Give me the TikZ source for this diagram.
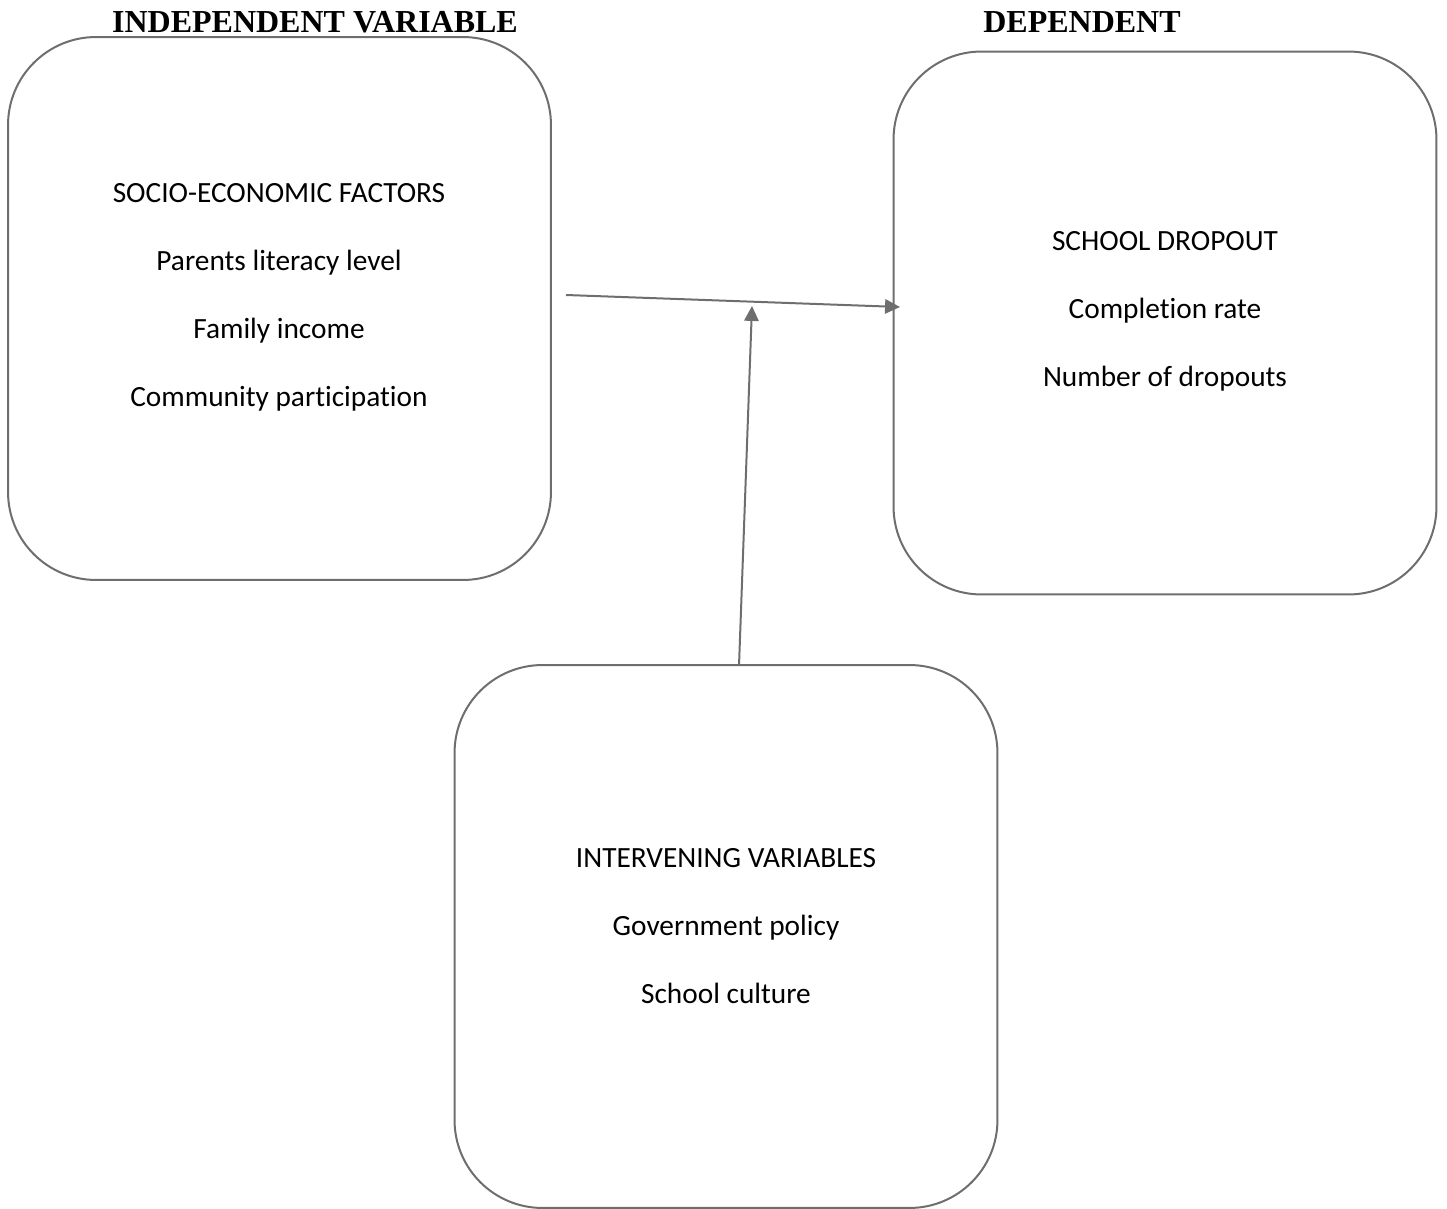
\documentclass[tikz,border=0pt]{standalone}
\usepackage{fontspec}
\setmainfont[Ligatures=NoCommon]{Carlito}
\newfontfamily\headfont{Liberation Serif}
\usepackage{xcolor}
\usetikzlibrary{arrows.meta, positioning, calc}
\definecolor{boxgray}{HTML}{6E6E6E}
\tikzset{
  vbox/.style={draw=boxgray, line width=0.75pt, rounded corners=33pt, minimum width=203.6pt, minimum height=203.6pt, inner sep=0pt},
  vtext/.style={align=center, font=\fontsize{11}{25.5}\selectfont},
  vhead/.style={anchor=base, inner sep=0pt, font=\headfont\bfseries\fontsize{12}{14}\selectfont},
  vflow/.style={-{Triangle[length=5.6pt, width=5.4pt]}, line width=0.75pt, boxgray},
}
\begin{document}
\begin{tikzpicture}[x=0.375pt, y=-0.375pt]
    \useasboundingbox (0,0) rectangle (1447,1209);
    \node[vbox] (iv) at (279.5,308.5) {};
    \node[vbox] (dv) at (1165,323) {};
    \node[vbox] (mv) at (726,936.5) {};
    \node[vhead] (ivhead) at (315,33) {INDEPENDENT VARIABLE};
    \node[vhead] (dvhead) at (1082,33) {DEPENDENT};
    \node[vtext] (ivtext) at (279,297) {SOCIO-ECONOMIC FACTORS\\Parents literacy level\\Family income\\Community participation};
    \node[vtext] (dvtext) at (1165,311) {SCHOOL DROPOUT\\Completion rate\\Number of dropouts};
    \node[vtext] (mvtext) at (726,926) {INTERVENING VARIABLES\\Government policy\\School culture};
    \coordinate (ivout) at (566,295);
    \coordinate (dvin) at (900,307);
    \coordinate (hit) at (752,306);
    \draw[vflow] (ivout) -- (dvin);
    \draw[vflow] ([xshift=4.9pt]mv.north) -- (hit);
  \end{tikzpicture}
\end{document}
